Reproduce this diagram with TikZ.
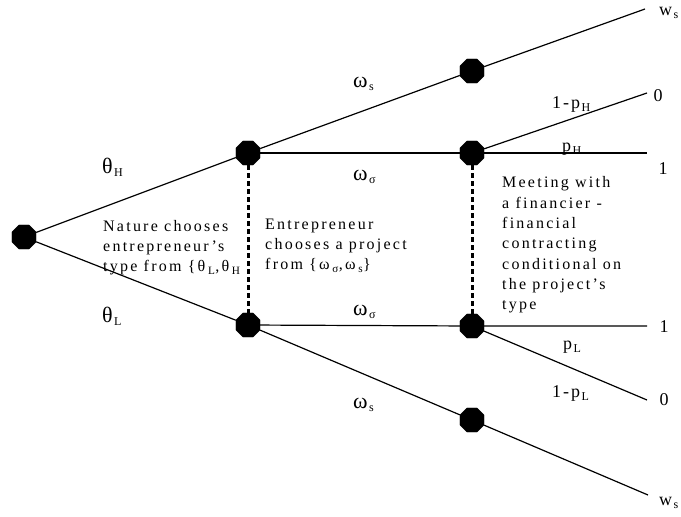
\documentclass[tikz,border=0pt]{standalone}
\usepackage{fontspec}
\setmainfont{Liberation Serif}
\newfontfamily\widefont[LetterSpace=14]{Liberation Serif}
\usetikzlibrary{shapes.geometric, positioning}
\newcommand{\subtx}[1]{\kern1.5pt\raisebox{-3pt}{\fontsize{12}{12}\selectfont #1}}

\begin{document}
\begin{tikzpicture}[
        x=1pt, y=-1pt,
        dot/.style={regular polygon, regular polygon sides=8, fill=black, draw=black, minimum size=26pt, inner sep=0pt},
        edge/.style={line width=1.2pt, draw=black},
        info/.style={line width=3pt, dash pattern=on 5pt off 3pt, draw=black},
        greek/.style={font=\fontsize{22}{24}\selectfont, inner sep=0pt, anchor=base west},
        lbl/.style={font=\fontsize{18}{20}\selectfont, inner sep=0pt},
        note/.style={font=\widefont\fontsize{16}{20.3}\selectfont, align=left, anchor=north west, inner sep=0pt}
    ]
        \useasboundingbox (0,0) rectangle (681,517);
        \node[dot] (root) at (24,237) {};
        \node[dot] (hi) at (248,153) {};
        \node[dot] (lo) at (248,325) {};
        \node[dot] (hisafe) at (472,71) {};
        \node[dot] (hirisky) at (472,153) {};
        \node[dot] (lorisky) at (472,326) {};
        \node[dot] (losafe) at (472,420) {};
        \coordinate (wstop) at (645,9);
        \coordinate (zerotop) at (647,93);
        \coordinate (onetop) at (647,153);
        \coordinate (onebot) at (647,326);
        \coordinate (zerobot) at (647,400);
        \coordinate (wsbot) at (648,495);
        \draw[edge] (root) -- (hi);
        \draw[edge] (root) -- (lo);
        \draw[edge] (hi) -- (hisafe) -- (wstop);
        \draw[edge] (hi) -- (hirisky) -- (onetop);
        \draw[edge] (hirisky) -- (zerotop);
        \draw[edge] (lo) -- (lorisky) -- (onebot);
        \draw[edge] (lorisky) -- (zerobot);
        \draw[edge] (lo) -- (losafe) -- (wsbot);
        \node[note] (nature) at (103,220) {Nature chooses\\entrepreneur’s\\type from \{θ\,\textsubscript{L},θ\,\textsubscript{H}};
        \node[note] (choice) at (265,218.5) {Entrepreneur\\chooses a project\\from \{ω\,\textsubscript{σ},ω\,\textsubscript{s}\}};
        \node[note] (meeting) at (502,176.5) {Meeting with\\a financier -\\financial\\contracting\\conditional on\\the project’s\\type};
        \draw[info] (hi) -- (lo);
        \draw[info] (hirisky) -- (lorisky);
        \node[greek] (thH) at (102,173) {θ\subtx{H}};
        \node[greek] (thL) at (102,322) {θ\subtx{L}};
        \node[greek] (omsH) at (353,87) {ω\subtx{s}};
        \node[greek] (omrH) at (353,180) {ω\subtx{σ}};
        \node[greek] (omrL) at (353,315) {ω\subtx{σ}};
        \node[greek] (omsL) at (353,408) {ω\subtx{s}};
        \node[lbl, anchor=base west] (qH) at (552,108) {1\kern2pt-\kern2pt p\subtx{H}};
        \node[lbl, anchor=base west] (pH) at (562,151) {p\subtx{H}};
        \node[lbl, anchor=base west] (pL) at (563,349) {p\subtx{L}};
        \node[lbl, anchor=base west] (qL) at (552,397) {1\kern2pt-\kern2pt p\subtx{L}};
        \node[lbl, anchor=base west] (wsH) at (659,15) {w\subtx{s}};
        \node[lbl] (zeroH) at (658,96) {0};
        \node[lbl] (oneH) at (663,169) {1};
        \node[lbl] (oneL) at (664,327) {1};
        \node[lbl] (zeroL) at (664,400) {0};
        \node[lbl, anchor=base west] (wsL) at (659,505) {w\subtx{s}};
    \end{tikzpicture}
\end{document}
